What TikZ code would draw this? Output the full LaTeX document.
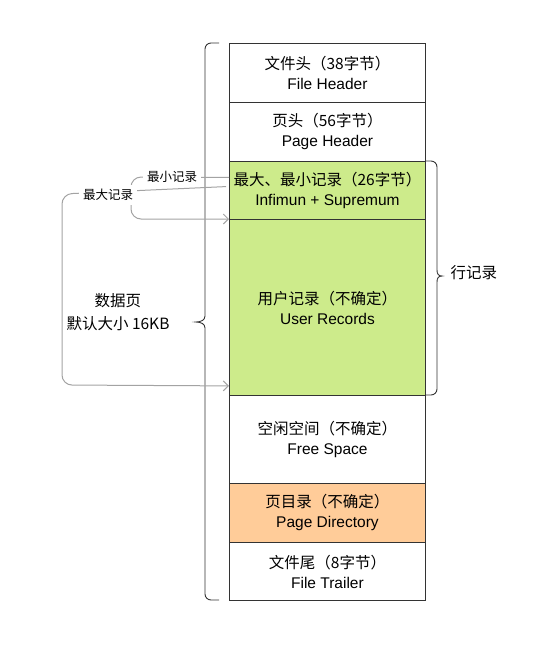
\documentclass[tikz,border=0pt]{standalone}
\usepackage{fontspec}
\setmainfont{Liberation Sans}
\newfontfamily\cjk{Noto Sans CJK SC}
\usetikzlibrary{arrows.meta}
\definecolor{recgreen}{HTML}{CDEB8B}
\definecolor{dirorange}{HTML}{FFCC99}
\definecolor{edgegray}{HTML}{333333}
\definecolor{linkgray}{HTML}{A3A3A3}
\begin{document}
\begin{tikzpicture}[x=1pt,y=-1pt,
  seg/.style={draw=edgegray, line width=0.9pt, minimum width=196pt, inner sep=0pt,
    align=center, anchor=north west, font=\fontsize{15.5}{20}\selectfont},
  bracestyle/.style={draw=edgegray, line width=0.9pt},
  link/.style={draw=linkgray, line width=1pt, rounded corners=10pt,
    -{Straight Barb[length=5pt,width=10pt]}},
  linklabel/.style={fill=white, inner sep=4pt, font=\cjk\fontsize{12.5}{14}\selectfont},
  sidelabel/.style={align=center, font=\cjk\fontsize{15.5}{23}\selectfont}]
\useasboundingbox (0,0) rectangle (537,665);

\node[seg, minimum height=59pt] (fh) at (229,43) {{\cjk 文件头（38字节）}\\File Header};
\node[seg, minimum height=59pt] (ph) at (229,102) {{\cjk 页头（56字节）}\\Page Header};
\node[seg, minimum height=58pt, fill=recgreen] (inf) at (229,161) {{\cjk 最大、最小记录（26字节）}\\Infimun + Supremum};
\node[seg, minimum height=176pt, fill=recgreen] (ur) at (229,219) {{\cjk 用户记录（不确定）}\\User Records};
\node[seg, minimum height=88pt] (fs) at (229,395) {{\cjk 空闲空间（不确定）}\\Free Space};
\node[seg, minimum height=59pt, fill=dirorange] (pd) at (229,483) {{\cjk 页目录（不确定）}\\Page Directory};
\node[seg, minimum height=58pt] (ft) at (229,542) {{\cjk 文件尾（8字节）}\\File Trailer};

% left brace
\draw[bracestyle] (219,43) -- (211,43) .. controls (207.7,43) and (205,45.7) .. (205,49)
  -- (205,316) .. controls (205,320) and (201,322) .. (196,322)
  .. controls (201,322) and (205,324) .. (205,328)
  -- (205,594) .. controls (205,597.3) and (207.7,600) .. (211,600) -- (219,600);
% right brace
\draw[bracestyle] (425,161) -- (431,161) .. controls (434.3,161) and (437,163.7) .. (437,167)
  -- (437,270) .. controls (437,274) and (438.5,276) .. (442,276)
  .. controls (438.5,276) and (437,278) .. (437,282)
  -- (437,389) .. controls (437,392.3) and (434.3,395) .. (431,395) -- (425,395);

\node[sidelabel, anchor=west] (rowrec) at (447,273) {行记录};
\node[sidelabel] (page) at (118,312) {数据页\\默认大小 16KB};

% connectors
\draw[link] ([yshift=13pt]inf.west) -- (131,177) -- (131,219) -- (ur.north west);
\node[linklabel] (minlab) at (172,177) {最小记录};
\draw[link, shorten <=3pt] ([yshift=4pt]inf.west) -- (62,194) -- (62,385) -- ([yshift=10pt]ur.south west);
\node[linklabel] (maxlab) at (108,195) {最大记录};
\end{tikzpicture}
\end{document}
